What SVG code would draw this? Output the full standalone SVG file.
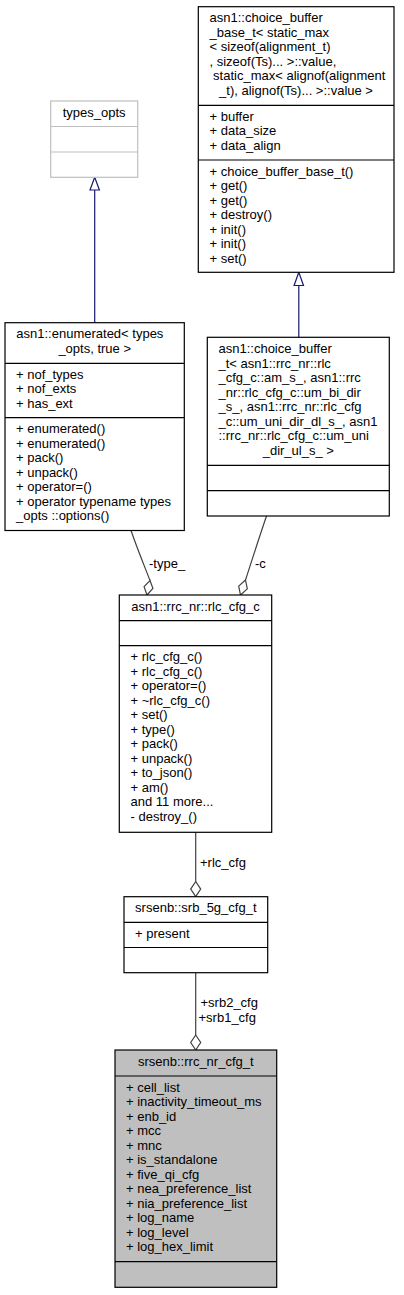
<svg xmlns="http://www.w3.org/2000/svg" width="404" height="1295" viewBox="0 0 404 1295">
<style>
text{font-family:"Liberation Sans",Arial,Helvetica,sans-serif;font-size:13px;fill:#000}
.c{text-anchor:middle}
.box{fill:#fff;stroke:#000;stroke-width:1.2}
.und{fill:#fff;stroke:#bfbfbf;stroke-width:1.2}
.grey{fill:#bfbfbf;stroke:#000;stroke-width:1.2}
.sep{stroke:#000;stroke-width:1.2}
.sepu{stroke:#bfbfbf;stroke-width:1.2}
.inh{stroke:#191970;stroke-width:1.2;fill:none}
.inhh{stroke:#191970;stroke-width:1.2;fill:#fff}
.use{stroke:#404040;stroke-width:1.2;fill:none}
.useh{stroke:#404040;stroke-width:1.2;fill:#fff}
</style>
<rect width="404" height="1295" fill="#fff"/>

<g id="connectors">
  <line class="inh" x1="94.7" y1="322.7" x2="94.7" y2="190"/>
  <polygon class="inhh" points="94.7,177.3 90,190 99.4,190"/>
  <line class="inh" x1="298.8" y1="337.3" x2="298.8" y2="285.5"/>
  <polygon class="inhh" points="298.8,272.3 294.1,285.5 303.5,285.5"/>
  <path class="use" d="M131,530.5 C137,548 144,565 150,580.5"/>
  <polygon class="useh" points="150,580.5 152.9,588.4 147,595 144.1,586.6"/>
  <text x="149" y="567.5">-type_</text>
  <path class="use" d="M266.5,516 C259,538 252,560 245.5,580"/>
  <polygon class="useh" points="245.5,580 247.3,588.9 240.5,595 238.7,586.1"/>
  <text x="255" y="567.5">-c</text>
  <line class="use" x1="195.7" y1="832.3" x2="195.7" y2="881.5"/>
  <polygon class="useh" points="195.7,881.5 200.7,889.1 195.7,896.7 190.7,889.1"/>
  <text x="200" y="867">+rlc_cfg</text>
  <line class="use" x1="195.7" y1="972.7" x2="195.7" y2="1035"/>
  <polygon class="useh" points="195.7,1035 200.7,1042.5 195.7,1050 190.7,1042.5"/>
  <text x="200.5" y="1006.5">+srb2_cfg</text>
  <text x="198.5" y="1021.5">+srb1_cfg</text>
</g>

<g id="node_choice_buffer_base">
  <rect class="box" x="198.3" y="6.7" width="195.7" height="265.6"/>
  <line class="sep" x1="198.3" y1="105.3" x2="394" y2="105.3"/>
  <line class="sep" x1="198.3" y1="160" x2="394" y2="160"/>
  <text x="209.5" y="22.2">asn1::choice_buffer</text>
  <text x="209.5" y="36.7">_base_t&lt; static_max</text>
  <text x="209.5" y="51.2">&lt; sizeof(alignment_t)</text>
  <text x="209.5" y="65.7">, sizeof(Ts)... &gt;::value,</text>
  <text x="213.1" y="80.2">static_max&lt; alignof(alignment</text>
  <text class="c" x="296" y="94.7">_t), alignof(Ts)... &gt;::value &gt;</text>
  <text x="209.5" y="120.8">+ buffer</text>
  <text x="209.5" y="135.3">+ data_size</text>
  <text x="209.5" y="149.8">+ data_align</text>
  <text x="209.5" y="175.5">+ choice_buffer_base_t()</text>
  <text x="209.5" y="190">+ get()</text>
  <text x="209.5" y="204.5">+ get()</text>
  <text x="209.5" y="219">+ destroy()</text>
  <text x="209.5" y="233.5">+ init()</text>
  <text x="209.5" y="248">+ init()</text>
  <text x="209.5" y="262.5">+ set()</text>
</g>

<g id="node_types_opts">
  <rect class="und" x="50.7" y="101" width="87" height="76.3"/>
  <line class="sepu" x1="50.7" y1="126.5" x2="137.7" y2="126.5"/>
  <line class="sepu" x1="50.7" y1="152" x2="137.7" y2="152"/>
  <text class="c" x="94.2" y="116.5">types_opts</text>
</g>

<g id="node_enumerated">
  <rect class="box" x="5" y="322.7" width="179.3" height="207.8"/>
  <line class="sep" x1="5" y1="363.3" x2="184.3" y2="363.3"/>
  <line class="sep" x1="5" y1="417.7" x2="184.3" y2="417.7"/>
  <text x="16.3" y="338.2">asn1::enumerated&lt; types</text>
  <text class="c" x="94.7" y="352.7">_opts, true &gt;</text>
  <text x="16" y="378.8">+ nof_types</text>
  <text x="16" y="393.3">+ nof_exts</text>
  <text x="16" y="407.8">+ has_ext</text>
  <text x="16" y="433.2">+ enumerated()</text>
  <text x="16" y="447.7">+ enumerated()</text>
  <text x="16" y="462.2">+ pack()</text>
  <text x="16" y="476.7">+ unpack()</text>
  <text x="16" y="491.2">+ operator=()</text>
  <text x="16" y="505.7">+ operator typename types</text>
  <text x="16" y="520.2">_opts ::options()</text>
</g>

<g id="node_choice_buffer_t">
  <rect class="box" x="207.3" y="337.3" width="182" height="178.7"/>
  <line class="sep" x1="207.3" y1="465.3" x2="389.3" y2="465.3"/>
  <line class="sep" x1="207.3" y1="490.7" x2="389.3" y2="490.7"/>
  <text x="218.5" y="353.3">asn1::choice_buffer</text>
  <text x="218.5" y="367.8">_t&lt; asn1::rrc_nr::rlc</text>
  <text x="218.5" y="382.3">_cfg_c::am_s_, asn1::rrc</text>
  <text x="218.5" y="396.8">_nr::rlc_cfg_c::um_bi_dir</text>
  <text x="218.5" y="411.3">_s_, asn1::rrc_nr::rlc_cfg</text>
  <text x="218.5" y="425.8">_c::um_uni_dir_dl_s_, asn1</text>
  <text x="218.5" y="440.3">::rrc_nr::rlc_cfg_c::um_uni</text>
  <text class="c" x="298.3" y="454.8">_dir_ul_s_ &gt;</text>
</g>

<g id="node_rlc_cfg_c">
  <rect class="box" x="119.3" y="595" width="152.4" height="237.3"/>
  <line class="sep" x1="119.3" y1="620.7" x2="271.7" y2="620.7"/>
  <line class="sep" x1="119.3" y1="645.7" x2="271.7" y2="645.7"/>
  <text class="c" x="195.5" y="610.7">asn1::rrc_nr::rlc_cfg_c</text>
  <text x="130.5" y="661.2">+ rlc_cfg_c()</text>
  <text x="130.5" y="675.7">+ rlc_cfg_c()</text>
  <text x="130.5" y="690.2">+ operator=()</text>
  <text x="130.5" y="704.7">+ ~rlc_cfg_c()</text>
  <text x="130.5" y="719.2">+ set()</text>
  <text x="130.5" y="733.7">+ type()</text>
  <text x="130.5" y="748.2">+ pack()</text>
  <text x="130.5" y="762.7">+ unpack()</text>
  <text x="130.5" y="777.2">+ to_json()</text>
  <text x="130.5" y="791.7">+ am()</text>
  <text x="130.5" y="806.2">and 11 more...</text>
  <text x="130.5" y="820.7">- destroy_()</text>
</g>

<g id="node_srb_5g_cfg_t">
  <rect class="box" x="124" y="896.7" width="143.7" height="76"/>
  <line class="sep" x1="124" y1="922.3" x2="267.7" y2="922.3"/>
  <line class="sep" x1="124" y1="947.5" x2="267.7" y2="947.5"/>
  <text class="c" x="195.8" y="912.2">srsenb::srb_5g_cfg_t</text>
  <text x="135" y="938.2">+ present</text>
</g>

<g id="node_rrc_nr_cfg_t">
  <rect class="grey" x="115" y="1050" width="161.7" height="237.3"/>
  <line class="sep" x1="115" y1="1076" x2="276.7" y2="1076"/>
  <line class="sep" x1="115" y1="1261.7" x2="276.7" y2="1261.7"/>
  <text class="c" x="195.8" y="1065.5">srsenb::rrc_nr_cfg_t</text>
  <text x="126" y="1091.5">+ cell_list</text>
  <text x="126" y="1106">+ inactivity_timeout_ms</text>
  <text x="126" y="1120.5">+ enb_id</text>
  <text x="126" y="1135">+ mcc</text>
  <text x="126" y="1149.5">+ mnc</text>
  <text x="126" y="1164">+ is_standalone</text>
  <text x="126" y="1178.5">+ five_qi_cfg</text>
  <text x="126" y="1193">+ nea_preference_list</text>
  <text x="126" y="1207.5">+ nia_preference_list</text>
  <text x="126" y="1222">+ log_name</text>
  <text x="126" y="1236.5">+ log_level</text>
  <text x="126" y="1251">+ log_hex_limit</text>
</g>
</svg>
